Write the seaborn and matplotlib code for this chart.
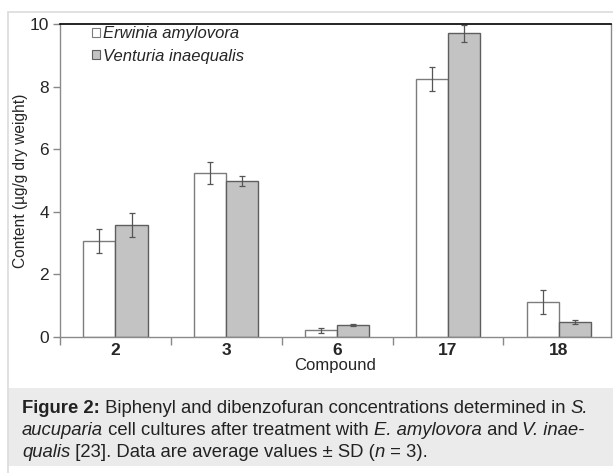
import numpy as np
import pandas as pd
import matplotlib
matplotlib.use("Agg")
import matplotlib.pyplot as plt
import seaborn as sns
from matplotlib.patches import Rectangle
from matplotlib.lines import Line2D

# values (µg/g dry weight)
compounds = ["2", "3", "6", "17", "18"]
erwinia = [3.07, 5.24, 0.22, 8.24, 1.12]
erwinia_sd = [0.38, 0.35, 0.08, 0.38, 0.38]
venturia = [3.58, 4.98, 0.38, 9.71, 0.48]
venturia_sd = [0.37, 0.17, 0.03, 0.27, 0.06]
series = ["Erwinia amylovora", "Venturia inaequalis"]

df = pd.DataFrame({
    "Compound": compounds * 2,
    "Content": erwinia + venturia,
    "Treatment": [series[0]] * len(compounds) + [series[1]] * len(compounds),
})
sds = [erwinia_sd, venturia_sd]

sns.set_style("ticks")
plt.rcParams["font.family"] = ["Liberation Sans", "DejaVu Sans"]

W, H = 613, 473
fig = plt.figure(figsize=(W / 100, H / 100), dpi=100)

def fx(px):
    return px / W

def fy(py):
    return 1 - py / H

# outer panel lines + caption box
fig.add_artist(Line2D([fx(8), fx(8)], [fy(12), fy(473)], color="#dcdcdc", lw=1.2, transform=fig.transFigure))
fig.add_artist(Line2D([fx(8), fx(613)], [fy(12), fy(12)], color="#dcdcdc", lw=1.2, transform=fig.transFigure))
fig.add_artist(Rectangle((fx(8), fy(466)), fx(605), (466 - 388) / H, facecolor="#ebebeb",
                         edgecolor="none", transform=fig.transFigure))

ax = fig.add_axes([fx(60), fy(337), fx(611 - 60), (337 - 24) / H])
sns.barplot(data=df, x="Compound", y="Content", hue="Treatment", palette=["white", "#c3c3c3"],
            width=0.58, errorbar=None, ax=ax, linewidth=1.0)

edge_cols = ["#7c7c7c", "#5e5e5e"]
for cont, sd, ec in zip(ax.containers, sds, edge_cols):
    for bar, s in zip(cont, sd):
        bar.set_edgecolor(ec)
        cx = bar.get_x() + bar.get_width() / 2
        ax.errorbar(cx, bar.get_height(), yerr=s, fmt="none", ecolor="#555555",
                    elinewidth=0.9, capsize=2.5, capthick=0.9)

ax.set_xlim(-0.5, 4.47)
ax.set_ylim(0, 10)
ax.set_yticks([0, 2, 4, 6, 8, 10])
ax.set_xticks([-0.5, 0.5, 1.5, 2.5, 3.5], minor=True)
ax.tick_params(axis="x", which="major", length=0, labelsize=12.5, pad=4)
ax.tick_params(axis="x", which="minor", length=6, color="#888888", width=1)
ax.tick_params(axis="y", length=5, color="#888888", width=1, labelsize=12.5, pad=3)
for t in ax.get_xticklabels():
    t.set_fontweight("bold")

for side in ["left", "bottom", "right"]:
    ax.spines[side].set_color("#8a8a8a")
    ax.spines[side].set_linewidth(1.0)
ax.spines["top"].set_visible(True)
ax.spines["right"].set_visible(True)
ax.spines["top"].set_color("black")
ax.spines["top"].set_linewidth(1.2)

ax.set_xlabel("Compound", fontsize=12, labelpad=0)
ax.set_ylabel("Content (\u00b5g/g dry weight)", fontsize=11.2, labelpad=1)

handles, labels = ax.get_legend_handles_labels()
for h, ec in zip(handles, edge_cols):
    h.set_edgecolor(ec)
    h.set_linewidth(0.8)
ax.legend(handles, labels, loc="upper left", bbox_to_anchor=(fx(92), fy(26)),
          bbox_transform=fig.transFigure, frameon=False, handlelength=0.45, handleheight=0.45,
          handletextpad=0.2, labelspacing=0.45, borderaxespad=0, borderpad=0,
          prop={"style": "italic", "size": 12})

# caption with mixed styles
caption = [
    [("Figure 2:", "bold", "normal"), (" Biphenyl and dibenzofuran concentrations determined in ", "normal", "normal"),
     ("S.", "normal", "italic")],
    [("aucuparia", "normal", "italic"), (" cell cultures after treatment with ", "normal", "normal"),
     ("E. amylovora", "normal", "italic"), (" and ", "normal", "normal"), ("V. inae-", "normal", "italic")],
    [("qualis", "normal", "italic"), (" [23]. Data are average values \u00b1 SD (", "normal", "normal"),
     ("n", "normal", "italic"), (" = 3).", "normal", "normal")],
]
cap_size = 13.3
fig.canvas.draw()
renderer = fig.canvas.get_renderer()

def width_of(s, weight, style):
    # measure with guard chars so leading/trailing spaces count
    t1 = fig.text(0, 0, "|" + s + "|", fontsize=cap_size, fontweight=weight, fontstyle=style)
    t2 = fig.text(0, 0, "||", fontsize=cap_size, fontweight=weight, fontstyle=style)
    w = t1.get_window_extent(renderer).width - t2.get_window_extent(renderer).width
    t1.remove()
    t2.remove()
    return w

line_y = [408, 430, 452]
for segs, yb in zip(caption, line_y):
    x = 22
    for s, weight, style in segs:
        fig.text(fx(x), fy(yb), s, fontsize=cap_size, fontweight=weight, fontstyle=style,
                 va="center", ha="left", color="#222222")
        x += width_of(s, weight, style)

fig.savefig("out.png", dpi=100)
